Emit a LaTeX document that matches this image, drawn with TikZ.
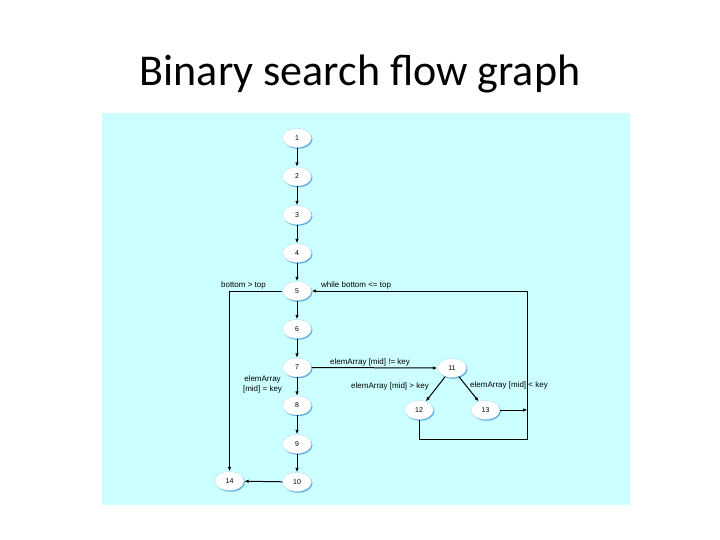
\documentclass[tikz,border=0pt]{standalone}
\usepackage{fontspec}
\setmainfont{Liberation Sans}
\newfontfamily\titlefont{Carlito}
\usetikzlibrary{arrows.meta,shadows,shapes.geometric}
\definecolor{bgcyan}{RGB}{204,255,255}
\definecolor{shadowblue}{RGB}{60,150,220}
\begin{document}
\begin{tikzpicture}[x=1pt,y=-1pt,
  vtx/.style={ellipse,draw=shadowblue!40,line width=0.3pt,fill=white,minimum width=29pt,minimum height=19pt,inner sep=0pt,font=\fontsize{7}{8}\selectfont,
    drop shadow={fill=shadowblue,opacity=0.8,shadow xshift=1pt,shadow yshift=-1.2pt}},
  edge/.style={line width=1pt,-{Latex[length=4.5pt,width=3.5pt]}},
  lbl/.style={font=\fontsize{8}{9}\selectfont,inner sep=0pt}]
\useasboundingbox (0,0) rectangle (720,540);
\fill[white] (0,0) rectangle (720,540);
\fill[bgcyan] (102,113) rectangle (630,505);
\node[font=\titlefont\fontsize{44}{48}\selectfont,anchor=base] (title) at (360,85.5) {Binary search flow graph};
% nodes
\node[vtx] (n1) at (297,138) {1};
\node[vtx] (n2) at (297,176.5) {2};
\node[vtx] (n3) at (297,215) {3};
\node[vtx] (n4) at (297,253) {4};
\node[vtx] (n5) at (297,291) {5};
\node[vtx] (n6) at (297,329) {6};
\node[vtx] (n7) at (297,367.5) {7};
\node[vtx] (n8) at (297,405.5) {8};
\node[vtx] (n9) at (297,444) {9};
\node[vtx] (n10) at (297,482) {10};
\node[vtx] (n14) at (229.5,481) {14};
\node[vtx] (n11) at (452,368) {11};
\node[vtx] (n12) at (419,410) {12};
\node[vtx] (n13) at (485.5,410) {13};
\coordinate (c5l) at (229.5,291);
\coordinate (c12d) at (419,439);
\coordinate (cbr) at (527.5,439);
\coordinate (ctr) at (527.5,291);
\coordinate (c13r) at (527.5,410);
% edges
\draw[edge] (n1) -- (n2);
\draw[edge] (n2) -- (n3);
\draw[edge] (n3) -- (n4);
\draw[edge] (n4) -- (n5);
\draw[edge] (n5) -- (n6);
\draw[edge] (n6) -- (n7);
\draw[edge] (n7) -- (n8);
\draw[edge] (n8) -- (n9);
\draw[edge] (n9) -- (n10);
\draw[edge] (n10) -- (n14);
\draw[edge] (n5.west) -- (c5l) -- (n14.north);
\draw[edge] (n7.east) -- (n11.west);
\draw[edge] (n11) -- (n12);
\draw[edge] (n11) -- (n13);
\draw[edge] (n13.east) -- (c13r);
\draw[edge] (n12.south) -- (c12d) -- (cbr) -- (ctr) -- (n5.east);
% labels
\node[lbl,anchor=base east] (l1) at (266,287) {bottom > top};
\node[lbl,anchor=base west] (l2) at (321,287) {while bottom <= top};
\node[lbl,anchor=base] (l3) at (370,364) {elemArray [mid] != key};
\node[lbl,anchor=base] (l4) at (390,388) {elemArray [mid] > key};
\node[lbl,anchor=base] (l5) at (509,387.5) {elemArray [mid] < key};
\node[lbl,align=center] (l6) at (262.5,384.5) {elemArray\\[1pt][mid] = key};
\end{tikzpicture}
\end{document}
